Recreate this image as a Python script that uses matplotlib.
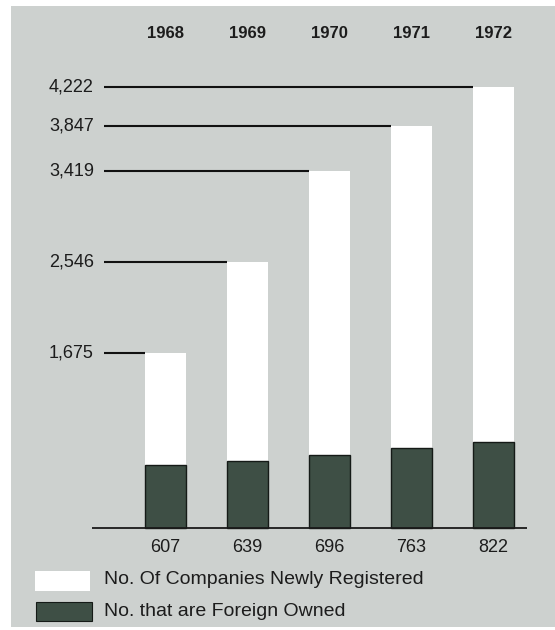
import matplotlib
matplotlib.use("Agg")
import matplotlib.pyplot as plt
from matplotlib.patches import Rectangle

# Data
years = ["1968", "1969", "1970", "1971", "1972"]
registered = [1675, 2546, 3419, 3847, 4222]
foreign = [607, 639, 696, 763, 822]
legend_labels = ["No. Of Companies Newly Registered", "No. that are Foreign Owned"]

BG = "#cdd1cf"
DARK = "#3e4f45"
TXT = "#1c1c1c"
FONT = ["Liberation Sans", "DejaVu Sans"]

W, H = 555, 630
fig = plt.figure(figsize=(W / 100, H / 100), dpi=100)
fig.patch.set_facecolor("white")

# grey panel behind the chart
fig.patches.append(Rectangle((11 / W, 1 - 627 / H), 544 / W, 621 / H,
                             transform=fig.transFigure, facecolor=BG,
                             edgecolor="none", zorder=-10))

ax = fig.add_axes([0, 0, 1, 1])
ax.set_zorder(5)
ax.set_facecolor("none")
ax.set_axis_off()

# axis scales: category spacing and value scale
x0_px, dx_px = 165, 82
base_px, k = 528, 0.1045
ax.set_xlim(-x0_px / dx_px, (W - x0_px) / dx_px)
ax.set_ylim((base_px - H) / k, base_px / k)

def px_x(p):
    return (p - x0_px) / dx_px

def px_y(p):
    return (base_px - p) / k

xs = list(range(len(years)))
bw = 0.5

ax.bar(xs, registered, width=bw, color="white", edgecolor="none", zorder=2)
ax.bar(xs, foreign, width=bw, color=DARK, edgecolor="#151a17",
       linewidth=1.0, zorder=3)

# baseline
ax.plot([px_x(92), px_x(527)], [0, 0], color="#1a1a1a", lw=1.3, zorder=4,
        solid_capstyle="butt")

# leader lines and value labels on the left
for x, v in zip(xs, registered):
    ax.plot([px_x(104), x - bw / 2], [v, v], color="#111111", lw=1.5,
            zorder=4, solid_capstyle="butt")
    ax.text(px_x(94), v, f"{v:,}", ha="right", va="center",
            fontsize=13, family=FONT, color=TXT)

# year labels along the top
for x, y in zip(xs, years):
    ax.text(x, px_y(34), y, ha="center", va="center", fontsize=12,
            fontweight="bold", family=FONT, color=TXT)

# foreign-owned counts below the baseline
for x, v in zip(xs, foreign):
    ax.text(x, px_y(547), f"{v}", ha="center", va="center", fontsize=13,
            family=FONT, color=TXT)

# legend
fig.patches.append(Rectangle((35 / W, 1 - 591 / H), 55 / W, 20 / H,
                             transform=fig.transFigure, facecolor="white",
                             edgecolor="none", zorder=1))
fig.patches.append(Rectangle((36 / W, 1 - 621 / H), 56 / W, 19 / H,
                             transform=fig.transFigure, facecolor=DARK,
                             edgecolor="#151a17", linewidth=0.8, zorder=1))
fig.text(104 / W, 1 - 580 / H, legend_labels[0], ha="left", va="center",
         fontsize=14, family=FONT, color=TXT)
fig.text(104 / W, 1 - 611 / H, legend_labels[1], ha="left", va="center",
         fontsize=14, family=FONT, color=TXT)

fig.savefig("out.png", dpi=100, facecolor=fig.get_facecolor())
